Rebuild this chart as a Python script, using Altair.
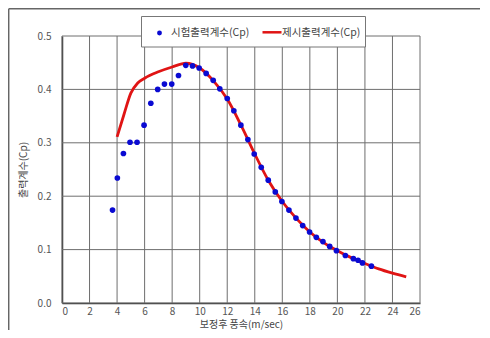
import altair as alt
import pandas as pd

# Experimental Cp points (시험출력계수)
exp_ws = [3.67, 4.02, 4.46, 4.94, 5.45, 5.96, 6.45, 6.95, 7.44, 7.97, 8.46, 8.99, 9.48,
          9.96, 10.47, 10.98, 11.46, 12.0, 12.48, 12.99, 13.5, 13.96, 14.47, 14.98, 15.49,
          15.97, 16.48, 16.99, 17.48, 17.98, 18.47, 18.95, 19.44, 19.93, 20.58, 21.16,
          21.5, 21.82, 22.47]
exp_cp = [0.174, 0.234, 0.280, 0.301, 0.301, 0.333, 0.374, 0.400, 0.410, 0.410, 0.426,
          0.445, 0.444, 0.440, 0.430, 0.417, 0.401, 0.383, 0.360, 0.333, 0.306, 0.279,
          0.254, 0.230, 0.208, 0.190, 0.174, 0.159, 0.145, 0.133, 0.123, 0.115, 0.106,
          0.098, 0.089, 0.083, 0.080, 0.075, 0.069]

# Presented Cp curve (제시출력계수)
cur_ws = [4, 4.5, 5, 5.5, 6, 7, 8, 9, 10, 11, 12, 13, 14, 15, 16, 17, 18, 19, 20, 21,
          22, 23, 24, 25]
cur_cp = [0.311, 0.353, 0.393, 0.412, 0.421, 0.433, 0.442, 0.449, 0.440, 0.416, 0.382,
          0.333, 0.279, 0.229, 0.190, 0.159, 0.133, 0.113, 0.098, 0.085, 0.074, 0.064,
          0.056, 0.049]

x_ticks = list(range(0, 27, 2))
y_ticks = [0.0, 0.1, 0.2, 0.3, 0.4, 0.5]
legend_labels = ["시험출력계수(Cp)", "제시출력계수(Cp)"]
x_title = "보정후 풍속(m/sec)"
y_title = "출력계수(Cp)"

FONT = "Noto Sans CJK KR"
W, H = 358, 267
GRID = "#6e6e6e"

exp_df = pd.DataFrame({"ws": exp_ws, "cp": exp_cp})
cur_df = pd.DataFrame({"ws": cur_ws, "cp": cur_cp})
xg_df = pd.DataFrame({"ws": x_ticks})
yg_df = pd.DataFrame({"cp": y_ticks})
one = pd.DataFrame({"k": [0]})

xs = alt.Scale(domain=[0, 26], nice=False, zero=False)
ys = alt.Scale(domain=[0, 0.5], nice=False)

x_axis = alt.Axis(values=x_ticks, format="d", title=x_title, ticks=False, grid=False,
                  labelOverlap=False, labelPadding=3, titleY=21.5, titleBaseline="middle",
                  domainColor="#333333", domainWidth=1.5)
y_axis = alt.Axis(values=y_ticks, format=".1f", title=y_title, ticks=False, grid=False,
                  labelOverlap=False, labelPadding=11, titleX=-39, titleY=H / 2,
                  titleBaseline="middle", titleAngle=270,
                  domainColor="#333333", domainWidth=1.5)

# grid lines drawn through the scales
vgrid = alt.Chart(xg_df).mark_rule(color=GRID, strokeWidth=1).encode(
    x=alt.X("ws:Q", scale=xs, axis=x_axis))
hgrid = alt.Chart(yg_df).mark_rule(color=GRID, strokeWidth=1).encode(
    y=alt.Y("cp:Q", scale=ys, axis=y_axis))

line = alt.Chart(cur_df).mark_line(color="#e01414", strokeWidth=2.8,
                                   interpolate="monotone").encode(
    x=alt.X("ws:Q", scale=xs, axis=x_axis),
    y=alt.Y("cp:Q", scale=ys, axis=y_axis),
)

pts = alt.Chart(exp_df).mark_circle(color="#0a0ad2", size=32, opacity=1).encode(
    x=alt.X("ws:Q", scale=xs, axis=x_axis),
    y=alt.Y("cp:Q", scale=ys, axis=y_axis),
)

# Legend box (drawn manually)
leg_box = alt.Chart(one).mark_rect(fill="white", stroke="#777777", strokeWidth=1).encode(
    x=alt.value(79.5), x2=alt.value(303.5), y=alt.value(-19.5), y2=alt.value(11))
leg_pt = alt.Chart(one).mark_circle(color="#0a0ad2", size=24, opacity=1).encode(
    x=alt.value(97.5), y=alt.value(-3))
leg_t1 = alt.Chart(one).mark_text(text=legend_labels[0], align="left", baseline="middle",
                                  font=FONT, fontSize=10.5, color="#444444").encode(
    x=alt.value(109), y=alt.value(-3))
leg_ln = alt.Chart(one).mark_rule(color="#e01414", strokeWidth=2.5).encode(
    x=alt.value(200.5), x2=alt.value(219.5), y=alt.value(-3.7))
leg_t2 = alt.Chart(one).mark_text(text=legend_labels[1], align="left", baseline="middle",
                                  font=FONT, fontSize=10.5, color="#444444").encode(
    x=alt.value(220), y=alt.value(-3))

# Outer frame
frame_l = alt.Chart(one).mark_rule(color="#666666", strokeWidth=1.5).encode(
    x=alt.value(-53.3), y=alt.value(-27.3), y2=alt.value(300))
frame_t = alt.Chart(one).mark_rule(color="#666666", strokeWidth=1.5).encode(
    x=alt.value(-53.3), x2=alt.value(420), y=alt.value(-27.3))

chart = alt.layer(vgrid, hgrid, line, pts, leg_box, leg_pt, leg_t1, leg_ln, leg_t2,
                  frame_l, frame_t).properties(
    width=W, height=H,
    autosize=alt.AutoSizeParams(type="none"),
    padding={"left": 54, "top": 28, "right": 60, "bottom": 27},
).configure_view(stroke=None).configure_axis(
    labelFont=FONT, labelFontSize=10, labelColor="#555555", labelOverlap=False,
    titleFont=FONT, titleFontSize=10, titleFontWeight="normal", titleColor="#444444",
)

chart.save("out.html", embed_options={"renderer": "svg", "actions": False})
